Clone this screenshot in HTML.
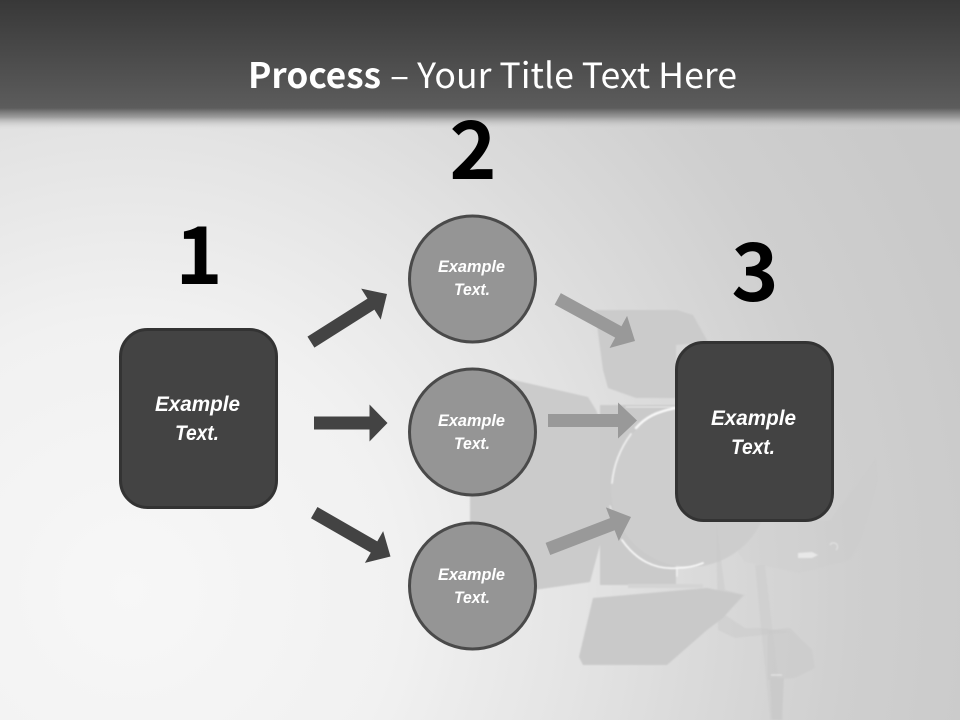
<!DOCTYPE html>
<html><head><meta charset="utf-8"><style>html,body{margin:0;padding:0;background:#ddd}svg{display:block}</style></head><body>
<svg width="960" height="720" viewBox="0 0 960 720" xmlns="http://www.w3.org/2000/svg">
<defs>
<radialGradient id="bg" gradientUnits="userSpaceOnUse" cx="130" cy="590" r="900">
<stop offset="0" stop-color="#f7f7f7"/><stop offset=".3" stop-color="#f1f1f1"/><stop offset=".5" stop-color="#e4e4e4"/><stop offset=".62" stop-color="#dbdbdb"/><stop offset=".8" stop-color="#cfcfcf"/><stop offset="1" stop-color="#c9c9c9"/>
</radialGradient>
<linearGradient id="hd" gradientUnits="userSpaceOnUse" x1="0" y1="0" x2="0" y2="130">
<stop offset="0" stop-color="#383838"/><stop offset=".83" stop-color="#5c5c5c"/><stop offset=".9" stop-color="#8f8f8f" stop-opacity=".85"/><stop offset="1" stop-color="#e0e0e0" stop-opacity="0"/>
</linearGradient>
<filter id="b05"><feGaussianBlur stdDeviation=".7"/></filter>
</defs>
<rect width="960" height="720" fill="url(#bg)"/>
<rect width="960" height="130" fill="url(#hd)"/>

<!-- faint lamp -->
<g filter="url(#b05)">
<path d="M876 458L878 480L862 540L850 560L800 573L745 562L716 520L830 520Z" fill="#c7c7c7" opacity=".2"/>
<path d="M505 378L588 397L596 410L608 440L600 545L590 582L520 592L470 590L470 495Z" fill="#cbcbcb"/>
<path d="M595 310L677 310L693 315L708 342L676 345L676 398L636 398L608 388L603 370Z" fill="#cbcbcb"/>
<path d="M600 405H676V585H600Z" fill="#cacaca"/>
<circle cx="690" cy="488" r="79" fill="#cdcdcd"/>
<path d="M593 598L707 588L743 595L723 618L707 630L667 665L583 665L579 657Z" fill="#c9c9c9"/>
<path d="M628 584H703V588H628Z" fill="#d4d4d4"/>
<path d="M716 520L718 630L735 638L790 632L760 628L745 628L725 615L745 595L725 590Z" fill="#c9c9c9" opacity=".5"/>
<path d="M755 565L770 720H783L765 565Z" fill="#c8c8c8" opacity=".4"/>
<path d="M768 630L790 628L812 650L815 668L795 678L768 680Z" fill="#c9c9c9" opacity=".6"/>
<path d="M770 678H784L782 720H772Z" fill="#cacaca"/>
<path d="M771 675H782" stroke="#e6e6e6" stroke-width="1.2" fill="none"/>
<path d="M798 553L812 552L818 555L812 558L798 558Z" fill="#e8e8e8"/>
<path d="M830 545A4 4 0 1 1 836 550" fill="none" stroke="#e4e4e4" stroke-width="1"/>
</g>
<g fill="none" stroke="#f8f8f8" filter="url(#b05)" stroke-linecap="round">
<path d="M612 483C614 463 622 446 631 434" stroke-width="1.800" opacity=".8"/>
<path d="M636 428C645 418 655 412 676 408" stroke-width="2.500"/>
<path d="M610 506L612 512" stroke-width="1.500" opacity=".6"/>
<path d="M622 540C636 560 655 570 677 568C688 568 696 566 703 563" stroke-width="1.800"/>
<path d="M677 568L677 576" stroke-width="1.500" opacity=".7"/>
<path d="M626 407H676" stroke-width="1" opacity=".7"/>
</g>

<!-- number labels -->
<g font-family="'Noto Sans CJK JP','Liberation Sans',sans-serif" font-weight="700" font-size="80" fill="#000" text-anchor="middle">
<text x="199" y="284">1</text>
<text x="473" y="179">2</text>
<text x="755" y="301">3</text>
</g>

<!-- title -->
<text y="88" font-family="'Noto Sans CJK JP','Liberation Sans',sans-serif" font-size="35" fill="#fff"><tspan x="248" font-weight="700" textLength="133" lengthAdjust="spacingAndGlyphs">Process</tspan><tspan x="390" textLength="347" lengthAdjust="spacingAndGlyphs">– Your Title Text Here</tspan></text>

<!-- arrows -->
<g fill="#434343">
<polygon transform="translate(387 294) rotate(-32.3)" points="0,0 -19,-18.3 -19,-6.5 -90,-6.5 -90,6.5 -19,6.5 -19,18.3"/>
<polygon transform="translate(387.500 423) rotate(0)" points="0,0 -18,-18.500 -18,-6.500 -73.500,-6.500 -73.500,6.500 -18,6.500 -18,18.500"/>
<polygon transform="translate(390.500 556.500) rotate(29.9)" points="0,0 -19,-18.3 -19,-6.500 -88,-6.500 -88,6.500 -19,6.500 -19,18.3"/>
</g>
<g fill="#999999">
<polygon transform="translate(635 341) rotate(28.6)" points="0,0 -19,-18.3 -19,-6.500 -88,-6.500 -88,6.500 -19,6.500 -19,18.3"/>
<polygon transform="translate(637 420.500) rotate(0)" points="0,0 -19,-18 -19,-6.500 -89,-6.500 -89,6.500 -19,6.500 -19,18"/>
<polygon transform="translate(631 517) rotate(-21)" points="0,0 -20,-18 -20,-6.500 -89,-6.500 -89,6.500 -20,6.500 -20,18"/>
</g>

<!-- boxes -->
<g fill="#434343" stroke="#333333" stroke-width="3">
<rect x="120.500" y="329.500" width="156" height="178" rx="27" ry="27"/>
<rect x="676.500" y="342.500" width="156" height="178" rx="27" ry="27"/>
</g>
<!-- circles -->
<g fill="#959595" stroke="#4a4a4a" stroke-width="3">
<circle cx="472.500" cy="279" r="63"/>
<circle cx="472.500" cy="432" r="63"/>
<circle cx="472.500" cy="586" r="63"/>
</g>

<!-- node text -->
<g font-family="'Liberation Sans',sans-serif" font-weight="700" font-style="italic" fill="#fff">
<g font-size="21">
<text x="155" y="411" textLength="85" lengthAdjust="spacingAndGlyphs">Example</text>
<text x="175" y="440" textLength="44" lengthAdjust="spacingAndGlyphs">Text.</text>
<text x="711" y="425" textLength="85" lengthAdjust="spacingAndGlyphs">Example</text>
<text x="731" y="454" textLength="44" lengthAdjust="spacingAndGlyphs">Text.</text>
</g>
<g font-size="16.500">
<text x="438" y="272" textLength="67" lengthAdjust="spacingAndGlyphs">Example</text>
<text x="454" y="295" textLength="36" lengthAdjust="spacingAndGlyphs">Text.</text>
<text x="438" y="426" textLength="67" lengthAdjust="spacingAndGlyphs">Example</text>
<text x="454" y="449" textLength="36" lengthAdjust="spacingAndGlyphs">Text.</text>
<text x="438" y="580" textLength="67" lengthAdjust="spacingAndGlyphs">Example</text>
<text x="454" y="603" textLength="36" lengthAdjust="spacingAndGlyphs">Text.</text>
</g>
</g>
</svg>
</body></html>
